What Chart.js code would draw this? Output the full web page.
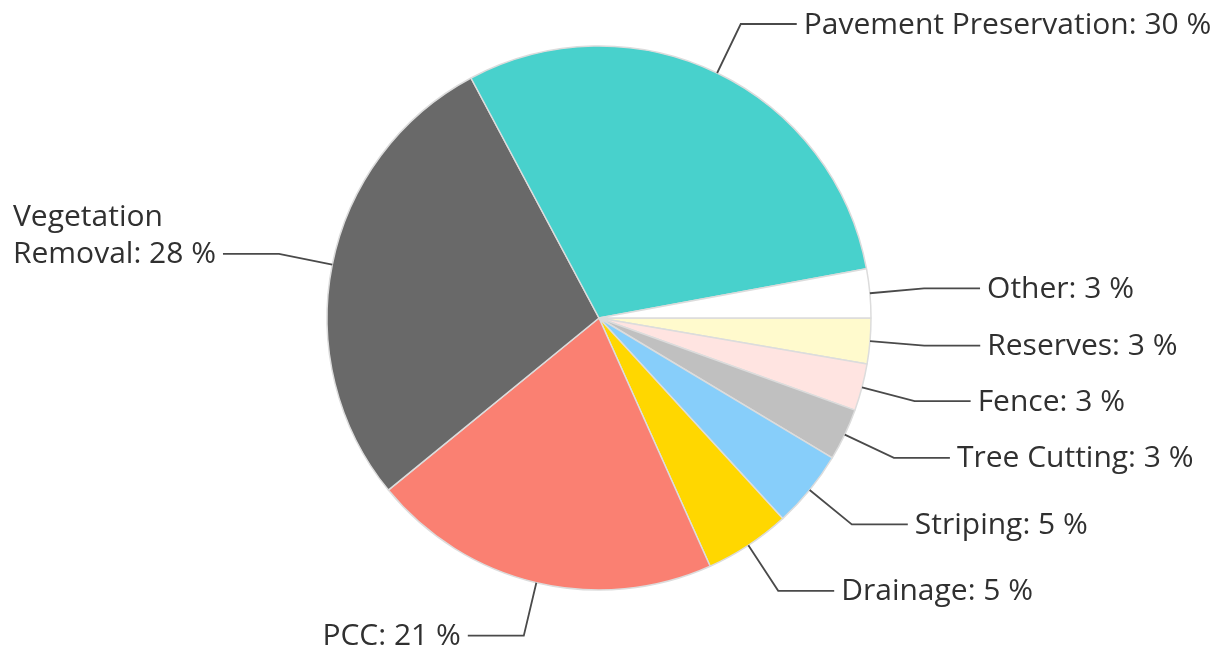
<!DOCTYPE html>
<html>
<head>
<meta charset="utf-8">
<title>Maintenance Spending</title>
<script src="https://cdn.jsdelivr.net/npm/chart.js@4.4.1/dist/chart.umd.min.js"></script>
<style>
    html, body { margin: 0; padding: 0; background: #ffffff; }
    #wrap { width: 1217px; height: 663px; }
</style>
</head>
<body>
<div id="wrap"><canvas id="pieChart" width="1217" height="663"></canvas></div>
<script>
// Categories, clockwise from 3 o'clock
const categories = ['Reserves', 'Fence', 'Tree Cutting', 'Striping', 'Drainage', 'PCC',
    'Vegetation Removal', 'Pavement Preservation', 'Other'];

// Share of budget (percent)
const shares = [2.7, 2.8, 3.1, 4.6, 5.1, 20.8, 28.1, 29.9, 2.9];

const sliceColors = ['#fffacd', '#ffe4e1', '#c0c0c0', '#87cefa', '#ffd700', '#fa8072',
    '#696969', '#48d1cc', '#ffffff'];

const FONT = '30px "Open Sans", "Noto Sans", sans-serif';

// Leader lines + outside labels
const outsideLabels = {
    id: 'outsideLabels',
    afterDatasetsDraw(chart) {
        const ctx = chart.ctx;
        const meta = chart.getDatasetMeta(0);
        const total = shares.reduce((a, b) => a + b, 0);

        ctx.save();
        ctx.font = FONT;
        ctx.textBaseline = 'middle';

        meta.data.forEach((arc, i) => {
            const { x, y, startAngle, endAngle, outerRadius } = arc.getProps(
                ['x', 'y', 'startAngle', 'endAngle', 'outerRadius'], true);
            const mid = (startAngle + endAngle) / 2;
            const cos = Math.cos(mid), sin = Math.sin(mid);
            const right = cos >= 0;

            const x0 = x + cos * outerRadius, y0 = y + sin * outerRadius;
            const x1 = x + cos * outerRadius * 1.2, y1 = y + sin * outerRadius * 1.2;
            const x2 = x1 + (right ? 56 : -56);

            ctx.strokeStyle = '#4a4a4a';
            ctx.lineWidth = 1.8;
            ctx.beginPath();
            ctx.moveTo(x0, y0);
            ctx.lineTo(x1, y1);
            ctx.lineTo(x2, y1);
            ctx.stroke();

            const text = categories[i] + ': ' + Math.round(shares[i] / total * 100) + ' %';
            const tx = x2 + (right ? 7 : -7);

            // left-side labels wrap if they would run off the canvas
            let lines = [text];
            if (!right && ctx.measureText(text).width > tx - 6) {
                const maxW = tx - 6;
                lines = [];
                let cur = '';
                text.split(' ').forEach(w => {
                    const test = cur ? cur + ' ' + w : w;
                    if (cur && ctx.measureText(test).width > maxW) {
                        lines.push(cur);
                        cur = w;
                    } else {
                        cur = test;
                    }
                });
                lines.push(cur);
            }

            const blockW = Math.max(...lines.map(l => ctx.measureText(l).width));
            const left = right ? tx : tx - blockW;
            ctx.fillStyle = '#303030';
            ctx.textAlign = 'left';
            lines.forEach((l, k) => {
                const ly = y1 + 1 - (lines.length - 1 - k) * 37;
                ctx.fillText(l, left, ly);
            });
        });
        ctx.restore();
    }
};

new Chart(document.getElementById('pieChart'), {
    type: 'pie',
    data: {
        labels: categories,
        datasets: [{
            data: shares,
            backgroundColor: sliceColors,
            borderColor: '#dcdcdc',
            borderWidth: 1.5
        }]
    },
    options: {
        responsive: false,
        animation: false,
        rotation: 90,
        radius: 272,
        layout: { padding: { left: 326, right: 345, top: 45, bottom: 72 } },
        plugins: {
            legend: { display: false },
            tooltip: { enabled: false }
        }
    },
    plugins: [outsideLabels]
});
</script>
</body>
</html>
